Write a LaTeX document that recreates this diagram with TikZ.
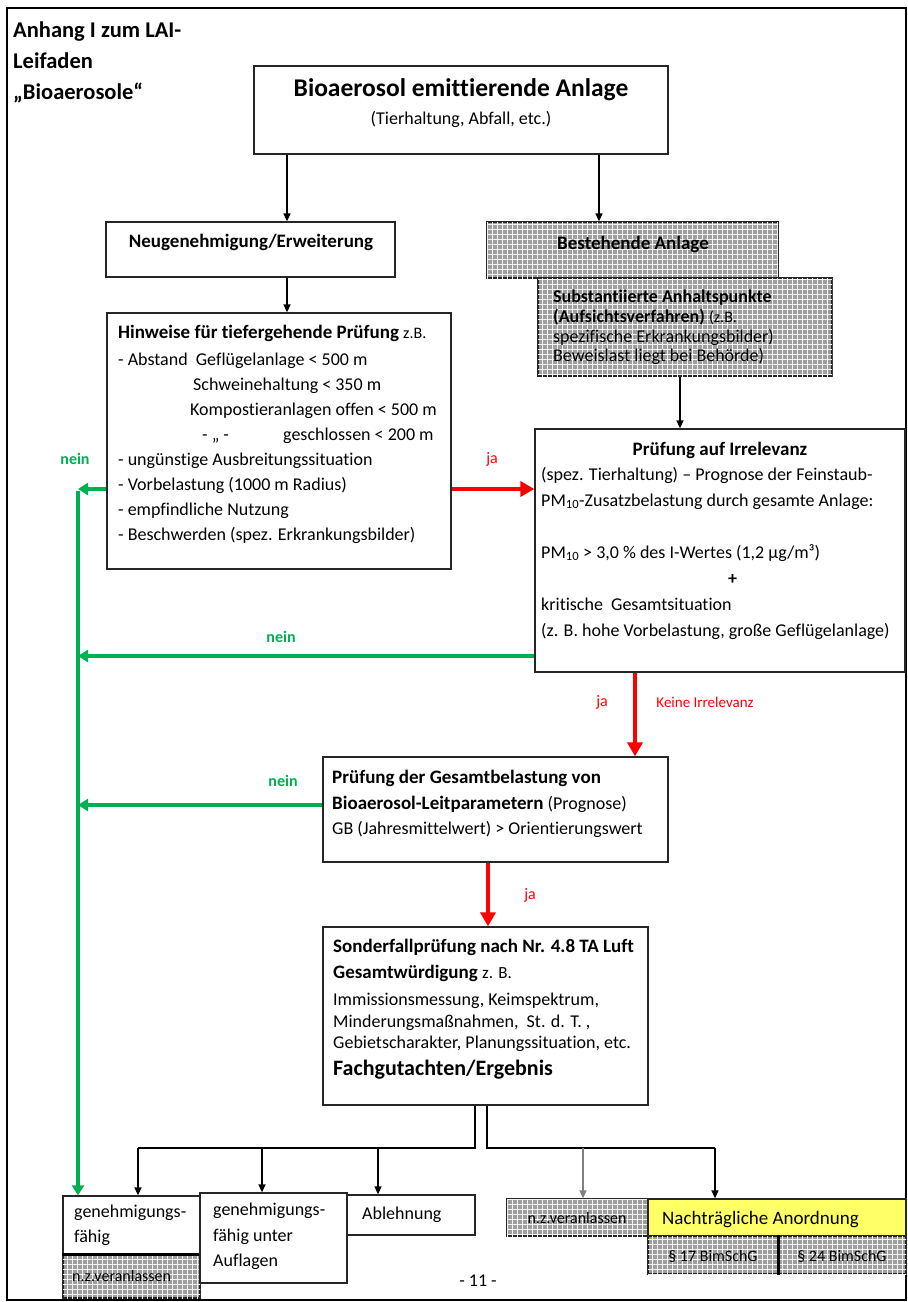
\documentclass[tikz,border=0pt]{standalone}
\usepackage{fontspec}
\setmainfont{Carlito}[Ligatures=NoCommon]
\usetikzlibrary{arrows.meta,fit,patterns}

\definecolor{okgreen}{RGB}{0,176,80}
\definecolor{jared}{RGB}{255,0,0}
\definecolor{notegelb}{RGB}{255,255,102}

\pgfdeclarepatternformonly{hatchgrid}{\pgfqpoint{-1pt}{-1pt}}{\pgfqpoint{6pt}{6pt}}{\pgfqpoint{5pt}{5pt}}{
  \pgfsetlinewidth{0.8pt}
  \pgfpathmoveto{\pgfqpoint{0pt}{2.5pt}}\pgfpathlineto{\pgfqpoint{5pt}{2.5pt}}
  \pgfpathmoveto{\pgfqpoint{2.5pt}{0pt}}\pgfpathlineto{\pgfqpoint{2.5pt}{5pt}}
  \pgfusepath{stroke}}

\begin{document}
\begin{tikzpicture}[x=1pt, y=-1pt, >={Triangle[length=8pt, width=7pt]},
  box/.style={draw=black!85, line width=1.3pt, inner sep=0pt},
  grau/.style={box, fill=black!38, postaction={pattern=hatchgrid, pattern color=white!90!gray}},
  txt/.style={inner sep=0pt, font=\fontsize{18}{25}\selectfont, align=left},
  verbind/.style={->, line width=1.3pt},
  jaarrow/.style={-{Triangle[length=14pt, width=15pt]}, line width=4.5pt, jared},
  neinarrow/.style={-{Triangle[length=10pt, width=12pt]}, line width=4pt, okgreen},
  neinlbl/.style={inner sep=0pt, font=\fontsize{16}{16}\selectfont\bfseries, text=okgreen},
  jalbl/.style={inner sep=0pt, font=\fontsize{16}{16}\selectfont, text=jared}]

  \useasboundingbox (0,0) rectangle (908,1302);
  \draw[line width=1.2pt] (7,8) rectangle (906,1300);

  % Columns and rows for the connectors
  \coordinate (x-neu) at (287,0);
  \coordinate (x-best) at (599,0);
  \coordinate (x-irr) at (680,0);
  \coordinate (x-ja2) at (635,0);
  \coordinate (x-ja3) at (488,0);
  \coordinate (x-nein) at (78,0);
  \coordinate (x-l) at (475,0);
  \coordinate (x-r) at (487,0);
  \coordinate (x-gf) at (138,0);
  \coordinate (x-gu) at (262,0);
  \coordinate (x-ab) at (378,0);
  \coordinate (x-nz) at (583,0);
  \coordinate (x-na) at (715,0);
  \coordinate (y-ja1) at (0,489);
  \coordinate (y-nein2) at (0,656);
  \coordinate (y-nein3) at (0,805);
  \coordinate (y-verz) at (0,1148);

  % Title
  \node[txt, anchor=north west, font=\fontsize{22.5}{31}\selectfont\bfseries] (anhang) at (13,22)
    {Anhang I zum LAI-\\Leifaden\\„Bioaerosole“};

  % Top box
  \node[box, fit={(254,66) (668,154)}] (anlage) {};
  \node[txt, anchor=base, font=\fontsize{25.5}{30}\selectfont\bfseries] (anlage-t) at (461,96) {Bioaerosol emittierende Anlage};
  \node[txt, anchor=base] (anlage-s) at (461,124) {(Tierhaltung, Abfall, etc.)};

  % Left branch
  \node[box, fit={(106,222) (395,277)}] (neu) {};
  \node[txt, anchor=base, font=\fontsize{19}{25}\selectfont\bfseries] (neu-t) at (251,247) {Neugenehmigung/Erweiterung};

  \node[box, fit={(107,313) (451,569)}] (hinweise) {};
  \node[txt, anchor=north west] (hinweise-t) at (118,325) {%
    {\fontsize{19}{25}\selectfont\bfseries Hinweise für tiefergehende Prüfung} {\fontsize{16}{25}\selectfont z.B.}\\[2pt]
    - Abstand\ \ Geflügelanlage < 500 m\\
    \hspace*{75pt}Schweinehaltung < 350 m\\
    \hspace*{72pt}Kompostieranlagen offen < 500 m\\
    \hspace*{84pt}\makebox[81pt][l]{- „ -}geschlossen < 200 m\\
    - ungünstige Ausbreitungssituation\\
    - Vorbelastung (1000 m Radius)\\
    - empfindliche Nutzung\\
    - Beschwerden (spez. Erkrankungsbilder)};

  % Right branch
  \node[grau, fit={(487,222) (778,278)}] (best) {};
  \node[txt, anchor=base west, font=\fontsize{19}{25}\selectfont\bfseries] (best-t) at (557,249) {Bestehende Anlage};

  \node[grau, fit={(538,278) (832,376)}] (subst) {};
  \node[txt, anchor=north west, font=\fontsize{18}{19.7}\selectfont] (subst-t) at (553,290) {%
    \textbf{Substantiierte Anhaltspunkte}\\
    \textbf{(Aufsichtsverfahren)} {\fontsize{16}{19.7}\selectfont (z.B.}\\
    spezifische Erkrankungsbilder)\\
    Beweislast liegt bei Behörde)};

  \node[box, fit={(535,429) (905,672)}] (irrel) {};
  \node[txt, anchor=base, font=\fontsize{19}{25}\selectfont\bfseries] (irrel-t) at (720,455) {Prüfung auf Irrelevanz};
  \node[txt, anchor=north west, font=\fontsize{18}{26}\selectfont] (irrel-s) at (541,467) {%
    (spez. Tierhaltung) – Prognose der Feinstaub-\\
    PM\textsubscript{10}-Zusatzbelastung durch gesamte Anlage:\\
    \mbox{}\\
    PM\textsubscript{10} > 3,0 \% des I-Wertes (1,2 µg/m³)\\
    \hspace*{187pt}\textbf{+}\\
    kritische\ \ Gesamtsituation\\
    (z. B. hohe Vorbelastung, große Geflügelanlage)};

  % Total load
  \node[box, fit={(323,757) (668,862)}] (gesamt) {};
  \node[txt, anchor=north west, font=\fontsize{18}{25.5}\selectfont] (gesamt-t) at (332,770) {%
    {\fontsize{19}{25.5}\selectfont\bfseries Prüfung der Gesamtbelastung von}\\
    {\fontsize{19}{25.5}\selectfont\bfseries Bioaerosol-Leitparametern} (Prognose)\\
    GB (Jahresmittelwert) > Orientierungswert};

  % Special case
  \node[box, fit={(323,927) (648,1105)}] (sonder) {};
  \node[txt, anchor=north west, font=\fontsize{19}{26}\selectfont] (sonder-t) at (333,939) {%
    \textbf{Sonderfallprüfung nach Nr. 4.8 TA Luft}\\
    \textbf{Gesamtwürdigung} {\fontsize{17}{26}\selectfont z. B.}};
  \node[txt, anchor=north west, font=\fontsize{18}{21.5}\selectfont] (sonder-s) at (333,993) {%
    Immissionsmessung, Keimspektrum,\\
    Minderungsmaßnahmen,\ \ St. d. T. ,\\
    Gebietscharakter, Planungssituation, etc.};
  \node[txt, anchor=base west, font=\fontsize{22}{26}\selectfont\bfseries] (sonder-e) at (333,1075) {Fachgutachten/Ergebnis};

  % Results
  \node[box, fit={(63,1196) (200,1255)}] (genf) {};
  \node[txt, anchor=north west, font=\fontsize{18}{25}\selectfont] (genf-t) at (74,1205) {genehmigungs-\\fähig};
  \node[grau, fit={(63,1255) (200,1298)}] (nz1) {};
  \node[txt, anchor=base west, font=\fontsize{16}{20}\selectfont] (nz1-t) at (72,1281) {n.z.veranlassen};
  \draw[line width=2.5pt] (nz1.north west) -- (nz1.north east);

  \node[box, fit={(200,1193) (347,1283)}] (genu) {};
  \node[txt, anchor=north west, font=\fontsize{18}{25.5}\selectfont] (genu-t) at (213,1203) {genehmigungs-\\fähig unter\\Auflagen};

  \node[box, fit={(347,1195) (475,1235)}] (ableh) {};
  \node[txt, anchor=base west] (ableh-t) at (362,1219) {Ablehnung};

  \node[grau, fit={(507,1199) (648,1236)}] (nz2) {};
  \node[txt, anchor=base, font=\fontsize{16}{20}\selectfont] (nz2-t) at (577,1223) {n.z.veranlassen};

  \node[box, fill=notegelb, fit={(648,1199) (906,1236)}] (nacht) {};
  \node[txt, anchor=base west, font=\fontsize{19}{25}\selectfont] (nacht-t) at (662,1224) {Nachträgliche Anordnung};

  \node[grau, fit={(648,1236) (778,1274)}] (p17) {};
  \node[txt, anchor=base, font=\fontsize{16}{20}\selectfont] (p17-t) at (713,1261) {§ 17 BimSchG};
  \node[grau, fit={(778,1236) (906,1274)}] (p24) {};
  \node[txt, anchor=base, font=\fontsize{16}{20}\selectfont] (p24-t) at (842,1261) {§ 24 BimSchG};
  \draw[line width=2.5pt] (p17.north east) -- (p17.south east);

  \node[txt, anchor=base] (seite) at (478,1286) {- 11 -};

  % Black connectors
  \draw[verbind] (x-neu |- anlage.south) -- (x-neu |- neu.north);
  \draw[verbind] (x-best |- anlage.south) -- (x-best |- best.north);
  \draw[verbind] (x-neu |- neu.south) -- (x-neu |- hinweise.north);
  \draw[verbind] (x-irr |- subst.south) -- (x-irr |- irrel.north);

  % ja
  \draw[jaarrow] (hinweise.east |- y-ja1) -- (irrel.west |- y-ja1);
  \draw[jaarrow] (x-ja2 |- irrel.south) -- (x-ja2 |- gesamt.north);
  \draw[jaarrow] (x-ja3 |- gesamt.south) -- (x-ja3 |- sonder.north);
  \node[jalbl] (ja1) at (492,459) {ja};
  \node[jalbl] (ja2) at (602,702) {ja};
  \node[jalbl, font=\fontsize{15}{15}\selectfont] (keine) at (705,702) {Keine Irrelevanz};
  \node[jalbl] (ja3) at (530,895) {ja};

  % nein
  \draw[neinarrow] (hinweise.west |- y-ja1) -- (x-nein |- y-ja1);
  \draw[neinarrow] (irrel.west |- y-nein2) -- (x-nein |- y-nein2);
  \draw[neinarrow] (gesamt.west |- y-nein3) -- (x-nein |- y-nein3);
  \draw[neinarrow] ([yshift=-2pt]x-nein |- y-ja1) -- (x-nein |- genf.north);
  \node[neinlbl] (nein1) at (75,459) {nein};
  \node[neinlbl] (nein2) at (281,637) {nein};
  \node[neinlbl] (nein3) at (283,781) {nein};

  % Results branches
  \draw[line width=1.3pt] (x-l |- sonder.south) -- (x-l |- y-verz) -- (x-gf |- y-verz);
  \draw[verbind] (x-gf |- y-verz) -- (x-gf |- genf.north);
  \draw[verbind] (x-gu |- y-verz) -- (x-gu |- genu.north);
  \draw[verbind] (x-ab |- y-verz) -- (x-ab |- ableh.north);
  \draw[line width=1.3pt] (x-r |- sonder.south) -- (x-r |- y-verz) -- (x-na |- y-verz);
  \draw[verbind, gray] (x-nz |- y-verz) -- (x-nz |- nz2.north);
  \draw[verbind] (x-na |- y-verz) -- (x-na |- nacht.north);

\end{tikzpicture}
\end{document}
